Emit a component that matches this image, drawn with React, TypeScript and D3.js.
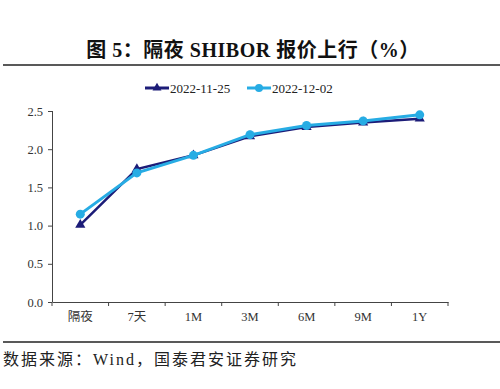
import { useEffect, useRef } from 'react';
import * as d3 from 'd3';

const categories = ['隔夜', '7天', '1M', '3M', '6M', '9M', '1Y'];
const seriesNames = ['2022-11-25', '2022-12-02'];
const values1125 = [1.01, 1.74, 1.92, 2.17, 2.29, 2.35, 2.4];
const values1202 = [1.15, 1.69, 1.92, 2.19, 2.31, 2.37, 2.45];
const yTicks = [0, 0.5, 1.0, 1.5, 2.0, 2.5];
const colors = ['#1c1c78', '#27ace4'];

const FONT = '"Liberation Serif", "Times New Roman", "Noto Sans CJK SC", serif';

export default function App() {
  const svgRef = useRef<SVGSVGElement>(null);

  useEffect(() => {
    const svg = d3.select(svgRef.current);
    const width = 500;
    const height = 389;
    const margin = { top: 111, right: 52, bottom: 87, left: 52 };

    svg.attr('viewBox', `0 0 ${width} ${height}`);
    svg.selectAll('*').remove();

    const x = d3
      .scaleBand()
      .domain(categories)
      .range([margin.left, width - margin.right]);
    const y = d3
      .scaleLinear()
      .domain([0, 2.5])
      .range([height - margin.bottom, margin.top]);

    // title
    svg
      .append('text')
      .attr('x', 253)
      .attr('y', 57)
      .attr('text-anchor', 'middle')
      .attr('font-family', FONT)
      .attr('font-weight', 'bold')
      .attr('font-size', 20)
      .attr('letter-spacing', 0.5)
      .attr('fill', '#111')
      .text('图 5：隔夜 SHIBOR 报价上行（%）');
    svg.append('line').attr('x1', 3).attr('x2', 500).attr('y1', 65).attr('y2', 65)
      .attr('stroke', '#222').attr('stroke-width', 1.3);
    svg.append('line').attr('x1', 3).attr('x2', 500).attr('y1', 342).attr('y2', 342)
      .attr('stroke', '#222').attr('stroke-width', 1.3);
    svg
      .append('text')
      .attr('x', 3)
      .attr('y', 365)
      .attr('font-family', FONT)
      .attr('font-size', 16)
      .attr('letter-spacing', 2)
      .attr('fill', '#222')
      .text('数据来源：Wind，国泰君安证券研究');

    // axes
    const yAxis = svg
      .append('g')
      .attr('transform', `translate(${margin.left},0)`)
      .call(d3.axisLeft(y).tickValues(yTicks).tickFormat(d3.format('.1f')).tickSize(4).tickPadding(5));
    const xAxis = svg
      .append('g')
      .attr('transform', `translate(0,${height - margin.bottom})`)
      .call(d3.axisBottom(x).tickSize(0).tickPadding(10));
    [yAxis, xAxis].forEach((g) => {
      g.select('.domain').attr('stroke', '#444');
      g.selectAll('line').attr('stroke', '#444');
      g.selectAll('text').attr('font-family', FONT).attr('font-size', 12.5).attr('fill', '#333');
    });
    yAxis.select('.domain').attr('d', `M0.5,${margin.top}V${height - margin.bottom}`);
    // x tick marks at band edges
    const edges = categories.map((c) => x(c)!).concat([width - margin.right]);
    xAxis
      .selectAll('line.edge')
      .data(edges)
      .enter()
      .append('line')
      .attr('class', 'edge')
      .attr('x1', (d) => d)
      .attr('x2', (d) => d)
      .attr('y1', 0)
      .attr('y2', 4)
      .attr('stroke', '#444');

    const cx = (d: number, i: number) => x(categories[i])! + x.bandwidth() / 2;
    const line = d3.line<number>().x(cx).y((d) => y(d));

    const allSeries = [values1125, values1202];
    allSeries.forEach((vals, s) => {
      svg
        .append('path')
        .datum(vals)
        .attr('fill', 'none')
        .attr('stroke', colors[s])
        .attr('stroke-width', s === 0 ? 2.5 : 3)
        .attr('d', line);
      if (s === 0) {
        svg
          .selectAll(null)
          .data(vals)
          .enter()
          .append('path')
          .attr('transform', (d, i) => `translate(${cx(d, i)},${y(d)})`)
          .attr('d', d3.symbol(d3.symbolTriangle, 45)())
          .attr('fill', colors[s]);
      } else {
        svg
          .selectAll(null)
          .data(vals)
          .enter()
          .append('circle')
          .attr('cx', (d, i) => cx(d, i))
          .attr('cy', (d) => y(d))
          .attr('r', 4.5)
          .attr('fill', colors[s]);
      }
    });

    // legend
    const legendX = [145, 247];
    seriesNames.forEach((name, s) => {
      const g = svg.append('g').attr('transform', `translate(${legendX[s]},88)`);
      g.append('line').attr('x1', 0).attr('x2', 24).attr('stroke', colors[s]).attr('stroke-width', 3);
      if (s === 0) {
        g.append('path').attr('transform', 'translate(12,0)').attr('d', d3.symbol(d3.symbolTriangle, 35)()).attr('fill', colors[s]);
      } else {
        g.append('circle').attr('cx', 12).attr('r', 4).attr('fill', colors[s]);
      }
      g.append('text')
        .attr('x', 25)
        .attr('y', 4.5)
        .attr('font-family', FONT)
        .attr('font-size', 13)
        .attr('fill', '#222')
        .text(name);
    });
  }, []);

  return (
    <svg
      ref={svgRef}
      width={500}
      height={389}
      style={{ position: 'absolute', left: 0, top: 0, background: '#fff' }}
    ></svg>
  );
}
